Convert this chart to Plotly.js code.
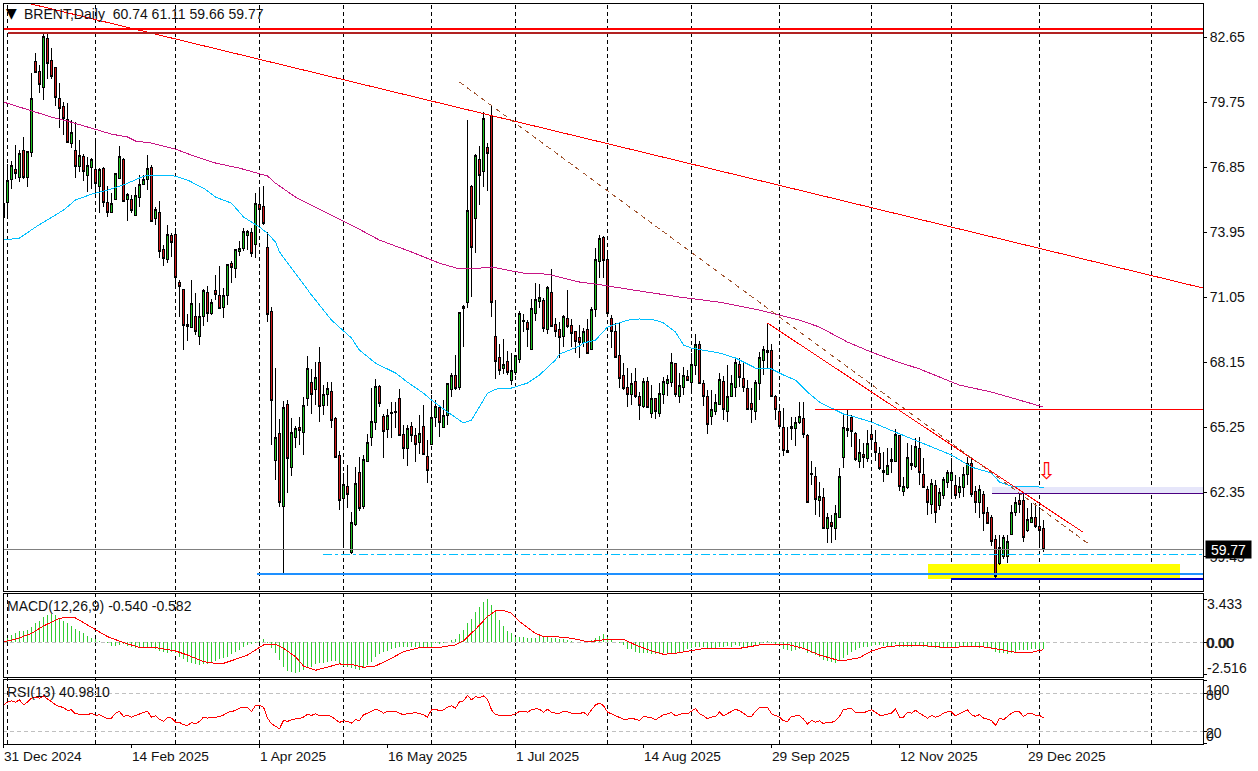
<!DOCTYPE html>
<html>
<head>
<meta charset="utf-8">
<script src="https://cdn.plot.ly/plotly-3.0.1.min.js"></script>
<style>
  html, body { margin: 0; padding: 0; background: #fff; }
  /* the terminal draws aliased lines */
  .scatterlayer path, .shapelayer path, .barlayer path, .boxlayer path { shape-rendering: crispEdges !important; }
</style>
</head>
<body>
<div id="chart" style="width:1258px;height:771px"></div>
<script>
// daily BRENT candles, left to right
const opens = [
  74.62,75.29,76.31,76.76,76.40,77.61,76.40,77.52,81.58,81.13,
  80.42,82.60,81.62,81.27,79.93,79.53,78.95,77.92,77.61,76.89,
  77.34,76.49,76.85,76.76,76.00,76.80,75.29,74.80,75.42,76.36,
  77.20,75.38,75.42,74.71,75.51,76.09,76.31,76.85,74.57,74.80,
  73.15,72.74,73.81,73.86,71.72,71.40,69.84,69.71,70.20,69.31,
  70.20,71.23,70.33,71.32,71.14,70.60,71.14,72.56,72.34,73.06,
  73.23,73.81,73.95,73.41,75.20,75.11,73.28,70.42,63.77,64.98,
  61.72,66.27,63.46,64.80,65.25,65.02,66.50,67.25,66.94,68.15,
  66.23,66.72,66.85,65.65,64.00,62.08,62.61,59.63,60.92,63.20,
  61.72,63.73,64.80,65.43,67.08,65.74,65.16,65.85,65.90,66.50,
  64.93,64.27,65.29,64.85,64.58,65.29,63.95,64.49,65.69,66.14,
  65.25,65.78,66.94,67.57,67.03,70.56,70.82,75.96,74.57,77.20,
  76.63,77.74,79.17,69.31,68.33,67.84,68.19,67.34,67.70,68.28,
  69.95,69.93,68.73,70.33,70.87,70.91,69.62,71.23,69.84,69.62,
  69.31,70.07,69.80,69.49,69.26,69.00,69.62,68.73,70.51,72.65,
  73.72,72.74,70.07,69.49,68.46,67.57,67.03,66.72,67.30,66.59,
  66.18,67.30,65.87,66.50,65.87,66.68,67.17,67.25,68.10,66.59,
  67.03,67.52,67.25,68.01,68.91,67.17,66.59,65.74,65.92,66.27,
  67.30,65.92,66.63,67.03,68.06,67.43,66.99,66.32,65.92,67.17,
  68.24,68.68,68.68,66.63,65.92,65.25,64.13,65.20,65.20,65.43,
  65.65,64.89,63.13,63.06,61.95,62.12,60.74,61.01,60.70,61.23,
  63.91,65.20,65.69,64.98,63.69,64.04,63.86,64.93,64.58,64.09,
  63.33,63.15,63.69,63.73,64.85,62.39,62.53,63.64,63.51,64.31,
  63.11,62.48,61.81,62.66,61.77,62.21,62.79,62.88,62.66,62.35,
  62.57,63.11,63.60,62.39,61.90,62.26,61.45,61.23,60.21,59.18,
  59.45,59.45,60.47,61.45,61.99,61.95,60.65,61.01,61.23,60.79,
  60.74
];
const highs = [
  75.29,76.98,77.12,77.83,77.61,78.19,77.56,81.04,81.94,81.40,
  82.87,82.78,82.16,81.31,80.60,79.75,79.70,78.95,78.86,78.05,
  77.43,77.29,77.25,78.05,76.80,76.85,76.00,75.69,76.58,77.79,
  77.25,75.69,75.60,75.96,76.49,76.49,77.38,76.94,75.06,75.33,
  73.37,74.26,73.90,74.13,71.81,71.40,70.29,71.81,71.23,70.78,
  71.40,71.54,70.96,72.03,72.43,71.45,72.52,72.65,73.15,73.55,
  74.13,74.04,74.13,75.69,75.91,76.00,73.95,70.60,67.88,65.60,
  66.41,66.45,65.65,65.29,65.69,66.59,68.42,67.84,68.15,68.82,
  67.12,67.25,67.25,65.69,64.18,63.20,63.55,61.45,63.46,63.91,
  64.00,64.93,66.99,67.39,67.12,65.83,66.05,66.36,66.36,66.94,
  65.34,65.34,65.47,65.20,65.78,66.23,64.67,66.68,66.45,66.23,
  66.45,67.21,67.66,68.46,70.38,70.69,78.95,76.05,77.43,77.79,
  79.30,77.92,79.61,70.91,68.95,69.17,68.64,68.55,68.42,70.42,
  70.29,70.02,70.96,71.67,71.63,71.00,71.54,72.30,70.11,69.93,
  70.24,71.36,70.07,69.53,69.80,69.66,70.07,70.60,73.23,73.81,
  73.77,72.97,70.24,69.89,69.89,68.10,67.88,67.66,67.88,66.81,
  67.43,67.48,67.12,66.54,67.21,67.48,67.57,68.55,68.10,67.66,
  67.92,67.79,68.55,69.40,69.08,67.34,66.90,66.90,66.72,67.66,
  67.52,68.01,67.57,68.37,68.33,68.10,67.34,66.99,67.34,68.59,
  68.86,69.89,68.95,66.68,66.09,66.09,65.25,65.69,65.69,66.36,
  66.36,64.93,63.73,63.46,62.79,62.53,61.41,61.32,61.77,63.42,
  65.78,66.05,65.78,65.02,64.71,64.53,65.11,65.16,65.11,64.36,
  64.13,64.31,64.31,65.16,64.89,63.02,64.53,64.44,64.76,64.80,
  63.86,62.61,62.93,62.88,62.53,63.02,63.33,63.86,63.11,63.02,
  63.46,63.91,63.86,62.61,62.66,62.39,61.68,61.32,60.43,60.43,
  60.43,60.43,61.77,62.12,62.26,62.26,61.63,61.86,61.86,61.68,
  61.11
];
const lows = [
  74.17,74.71,75.87,76.31,76.18,76.31,75.96,77.29,81.09,80.15,
  79.84,80.78,80.78,79.57,78.59,78.28,77.92,77.70,76.36,76.63,
  76.22,75.73,75.87,75.47,74.80,75.06,74.62,74.80,75.38,76.36,
  75.33,74.44,74.80,74.66,75.06,76.05,75.82,74.39,74.26,72.79,
  72.43,72.56,72.83,71.49,70.16,68.68,69.08,69.66,69.35,68.91,
  69.75,69.93,70.24,70.91,70.56,70.11,70.69,71.67,71.90,72.88,
  73.10,73.15,72.83,72.79,74.13,74.26,69.93,64.44,62.88,61.68,
  58.73,62.30,63.06,64.31,64.44,64.00,66.18,65.83,66.23,65.47,
  65.78,66.18,65.20,63.86,61.54,59.98,61.63,59.58,60.83,61.50,
  61.59,63.69,64.40,65.11,66.14,63.86,64.76,64.76,65.20,64.85,
  63.82,63.51,64.58,63.69,64.04,64.00,62.75,64.49,65.25,64.80,
  65.20,65.34,66.59,66.90,66.90,68.82,70.56,71.05,73.01,75.15,
  75.96,75.78,70.16,67.39,67.57,67.61,67.57,67.12,67.57,68.10,
  69.49,68.82,68.68,69.98,70.56,69.49,69.40,69.71,69.26,68.33,
  68.82,69.66,68.82,68.55,68.33,68.82,68.55,68.68,70.16,71.90,
  71.90,70.16,68.77,68.33,66.99,66.90,66.14,66.23,66.54,65.56,
  66.09,66.09,65.65,65.60,65.69,66.27,66.63,67.03,66.59,66.32,
  66.68,67.30,66.90,67.57,67.17,66.18,64.93,65.34,65.78,66.27,
  65.56,65.47,66.63,66.59,67.03,66.81,66.01,65.43,65.56,66.45,
  67.57,67.88,66.59,65.56,65.25,63.95,64.09,64.67,64.40,65.38,
  64.76,61.90,62.66,61.32,61.23,60.74,60.07,60.07,60.21,61.19,
  63.42,64.80,64.36,63.73,63.42,63.42,63.69,64.22,63.73,63.33,
  62.79,63.11,63.20,63.69,62.39,62.17,62.48,63.33,63.42,62.66,
  62.53,61.32,61.37,60.96,61.54,62.03,62.53,62.17,62.03,62.08,
  62.12,62.66,62.12,61.41,61.19,60.61,60.96,59.94,58.51,59.09,
  59.36,59.18,60.47,61.28,61.41,60.12,60.56,60.96,60.74,59.89,
  59.66
];
const closes = [
  75.24,76.27,76.94,76.54,77.47,76.40,77.56,79.93,81.09,80.55,
  82.69,81.49,80.91,79.97,79.48,79.03,77.96,78.37,76.89,77.38,
  76.63,76.94,77.20,76.13,76.76,75.29,74.80,75.24,76.54,77.34,
  75.33,75.64,74.89,75.60,76.09,76.31,76.80,74.44,74.97,73.06,
  72.79,73.86,73.50,71.90,71.54,69.80,69.75,70.74,69.49,70.20,
  71.32,70.33,70.82,71.18,70.56,71.14,72.48,72.39,73.15,73.23,
  73.99,73.99,73.01,75.24,74.97,74.31,70.29,66.45,64.80,61.86,
  66.14,63.86,65.02,65.20,65.11,66.23,67.88,66.68,67.48,66.18,
  66.68,66.99,65.56,63.91,61.95,62.70,62.26,61.01,62.75,61.63,
  63.82,64.58,65.51,67.08,66.32,65.07,65.78,65.89,65.94,64.89,
  64.31,65.20,64.89,64.49,64.98,64.04,63.33,65.69,66.18,65.43,
  65.78,67.17,67.57,66.99,70.38,70.62,74.89,73.28,77.38,76.49,
  79.03,77.47,70.82,68.19,67.75,68.06,67.70,67.79,68.42,70.33,
  70.00,69.62,70.56,70.96,71.05,69.66,71.49,69.75,69.49,69.26,
  70.20,69.75,69.44,69.08,69.00,69.53,68.55,70.51,72.74,73.64,
  72.70,70.33,69.49,68.37,67.43,66.99,66.72,67.21,66.59,66.23,
  67.30,66.14,66.50,65.92,66.76,67.30,67.39,68.15,66.68,67.12,
  67.57,67.34,68.06,68.95,67.21,66.63,65.38,66.05,66.36,67.39,
  66.01,66.59,67.17,68.15,67.48,67.03,66.05,66.01,67.25,68.33,
  68.73,68.59,66.63,66.01,65.29,64.22,64.22,65.29,65.47,65.74,
  64.93,61.90,63.17,62.03,62.17,60.74,61.19,60.79,61.37,63.02,
  65.25,65.11,65.07,63.82,64.13,63.91,64.53,64.71,64.13,63.42,
  63.24,63.55,63.82,64.93,62.61,62.61,63.91,63.55,64.40,63.20,
  62.57,61.86,62.75,61.45,62.35,62.93,63.24,63.20,62.21,62.61,
  63.15,63.60,62.26,61.90,62.44,61.37,60.96,60.16,58.60,59.89,
  60.34,60.12,61.45,61.90,61.81,60.34,61.14,61.23,60.79,60.61,
  59.77
];

// moving averages, read at the bends of each curve
const maFastIdx = [0,4,8,12,15,18,22,26,30,34,36,40,42,46,50,53,57,60,64,66,68,69,72,77,82,87,89,93,98,101,105,107,111,114,115,117,119,121,123,127,131,134,138,139,144,145,148,151,156,159,163,165,168,170,172,176,179,183,188,192,195,198,201,204,207,210,213,217,223,229,233,237,242,247,249,252,258,260];
const maFastVal = [73.59,73.68,74.17,74.62,74.93,75.38,75.64,75.82,76.05,76.36,76.49,76.49,76.49,76.27,75.91,75.51,75.24,74.62,74.17,73.90,73.50,73.06,72.34,71.14,70.02,69.22,68.68,68.10,67.66,67.25,66.76,66.45,65.92,65.56,65.43,65.56,66.14,66.76,66.94,66.99,67.21,67.57,68.24,68.50,68.86,69.00,69.13,69.71,70.02,70.07,70.02,69.89,69.49,68.91,68.77,68.64,68.55,68.33,67.88,67.84,67.57,67.34,66.81,66.36,66.09,65.83,65.69,65.47,65.02,64.58,64.31,64.00,63.46,63.20,62.79,62.61,62.61,62.53];
const maSlowIdx = [0,4,8,12,16,21,27,31,33,37,43,47,53,59,66,68,73,79,87,94,102,109,114,119,122,126,130,136,140,144,148,155,159,169,179,189,194,199,204,211,217,223,229,239,247,254,260];
const maSlowVal = [79.75,79.53,79.30,79.08,78.90,78.63,78.32,78.19,78.01,77.92,77.65,77.38,77.03,76.80,76.45,76.13,75.51,74.97,74.26,73.59,73.06,72.56,72.30,72.34,72.39,72.25,72.12,72.07,71.90,71.72,71.63,71.45,71.32,71.05,70.82,70.47,70.24,70.02,69.71,69.04,68.59,68.19,67.84,67.12,66.81,66.45,66.14];

// drawn objects on the price window, [start bar, end bar] and [start, end] price
const longTrendIdx = [5.9, 299.9],   longTrendVal = [84.17, 71.45];
const shortTrendIdx = [191, 269.85], shortTrendVal = [69.89, 60.56];
const dashTrendIdx = [114, 271],     dashTrendVal = [80.64, 60.07];
const levelTopRed = 83.01, levelTopBrown = 82.83, levelRed = 66.04, levelPurple = 62.29;
const levelLast = 59.77, levelCyan = 59.58, levelBlue = 58.69, levelNavy = 58.48;
const zoneLavender = [247, 300, 62.29, 62.57], zoneYellow = [231, 294, 58.47, 59.13];

// period separators, tick labels
const separatorBars = [1,23,43,64,85,107,128,151,172,194,217,237,259,287];
const dateTickBars = [0,32,64,96,128,160,192,224,256];
const dateTickText = ['31 Dec 2024','14 Feb 2025','1 Apr 2025','16 May 2025','1 Jul 2025','14 Aug 2025','29 Sep 2025','12 Nov 2025','29 Dec 2025'];
const priceTicks = [82.65,79.75,76.85,73.95,71.05,68.15,65.25,62.35,59.45];

// MACD histogram, one per bar
const macdHist = [
  .19,.37,.58,.71,.90,.93,.98,1.24,1.56,1.72,
  2.04,2.17,2.25,2.14,1.93,1.72,1.51,1.30,1.03,.90,
  .71,.53,.37,.24,.13,.05,-.03,-.29,-.29,-.21,
  -.16,-.29,-.40,-.48,-.42,-.34,-.34,-.40,-.50,-.66,
  -.77,-.82,-.79,-.87,-1.19,-1.35,-1.53,-1.61,-1.72,-1.77,
  -1.72,-1.69,-1.61,-1.48,-1.35,-1.27,-1.14,-.95,-.79,-.61,
  -.40,-.21,-.13,-.03,.11,.26,-.08,-.48,-.87,-1.40,
  -1.93,-2.28,-2.33,-2.41,-2.33,-2.20,-1.98,-1.93,-1.72,-1.67,
  -1.61,-1.53,-1.46,-1.46,-1.67,-1.88,-1.98,-2.06,-2.14,-2.20,
  -2.06,-1.80,-1.53,-1.14,-.93,-.77,-.66,-.56,-.48,-.34,
  -.40,-.40,-.34,-.40,-.40,-.48,-.48,-.34,-.08,-.16,
  -.03,0,.19,.24,.66,.98,1.51,1.85,2.43,2.83,
  3.23,3.44,2.96,2.43,1.77,1.32,.93,.71,.45,.42,
  .42,.37,.32,.37,.53,.53,.45,.37,.32,.24,
  .24,.19,.13,.05,.05,.05,.05,.19,.32,.53,
  .66,.45,.24,.05,-.03,-.21,-.50,-.53,-.74,-.87,
  -.87,-.87,-.93,-.95,-.87,-.82,-.87,-.82,-.82,-.77,
  -.69,-.56,-.48,-.34,-.34,-.40,-.45,-.48,-.42,-.34,
  -.34,-.29,-.40,-.21,-.29,-.34,-.34,-.40,-.21,-.21,
  -.03,.11,-.03,-.13,-.21,-.56,-.61,-.66,-.61,-.56,
  -.48,-.87,-.87,-1.01,-1.19,-1.40,-1.46,-1.53,-1.61,-1.46,
  -1.27,-1.01,-.74,-.61,-.48,-.40,-.40,-.29,-.21,-.21,
  -.29,-.34,-.29,-.13,-.34,-.40,-.34,-.34,-.21,-.29,
  -.34,-.40,-.40,-.48,-.48,-.40,-.34,-.34,-.40,-.34,
  -.34,-.29,-.29,-.40,-.48,-.40,-.48,-.56,-.74,-.82,
  -.87,-.93,-.87,-.74,-.61,-.61,-.61,-.56,-.50,-.50,
  -.54
];
const macdSignalIdx = [0,3,7,10,14,16,18,20,23,26,30,34,38,43,46,50,53,55,58,61,65,68,70,73,75,78,82,84,87,90,93,97,100,103,104,109,113,115,118,121,123,125,127,129,133,135,138,142,146,148,151,155,158,162,165,168,172,175,184,190,196,200,204,209,211,214,217,220,223,228,229,235,244,246,250,253,257,259,260];
const macdSignalVal = [.05,.24,.71,1.30,1.90,1.98,1.93,1.56,.98,.45,-.03,-.40,-.42,-.69,-1.01,-1.53,-1.67,-1.67,-1.35,-1.01,-.21,-.16,-.48,-1.14,-1.88,-2.22,-1.88,-1.72,-1.75,-1.98,-1.88,-1.27,-.74,-.48,-.42,-.40,-.21,.11,1.03,2.04,2.49,2.54,2.30,1.64,.71,.45,.45,.32,.05,.11,.24,.24,-.21,-.69,-.95,-.87,-.69,-.50,-.48,-.16,-.16,-.48,-1.01,-1.46,-1.40,-1.22,-.69,-.40,-.29,-.29,-.24,-.40,-.34,-.40,-.61,-.79,-.79,-.63,-.582];

// RSI(13), one per bar
const rsi = [
  61.6,65.8,67.9,65.8,69.5,61.6,65.8,72.1,73.7,72.1,
  75.8,71.1,65.3,61.6,58.9,57.4,52.6,53.7,47.4,46.8,
  46.8,45.8,48.4,44.7,45.8,42.1,39.5,40.5,48.4,51.1,
  43.2,44.7,42.1,44.7,47.4,49.5,51.1,42.1,44.2,38.9,
  35.3,41.6,40.5,34.2,33.7,30,28.9,33.7,31.6,35.3,
  42.1,40.5,42.1,41.6,43.2,45.3,49.5,51.1,52.6,56.3,
  57.9,57.9,51.1,60.5,60.5,57.9,40.5,31.6,27.4,23.7,
  36.8,35.3,37.9,39.5,39.5,42.1,46.8,44.7,47.4,44.7,
  45.3,45.3,43.2,38.9,33.7,36.3,35.3,32.6,37.9,36.8,
  45.8,48.4,51.1,54.7,52.6,48.4,51.1,51.1,51.1,48.4,
  45.8,47.9,47.9,49.5,47.4,45.8,42.1,53.7,54.7,52.1,
  53.7,57.9,60,56.3,66.8,67.9,76.3,69.5,74.7,73.2,
  75.8,70.5,53.7,45.8,45.3,45.3,45.3,45.3,47.4,51.1,
  51.1,50,53.7,55.3,54.7,49.5,54.7,49.5,48.4,48.4,
  51.1,50.5,48.4,47.4,47.4,50,44.7,53.7,61.6,64.2,
  60.5,50,46.8,44.2,41.6,38.9,38.9,40.5,38.9,36.8,
  43.2,41.6,41.1,37.9,42.1,45.8,47.4,49.5,44.2,46.8,
  48.4,47.4,51.1,55.8,47.4,44.2,39.5,42.1,43.2,50,
  44.2,47.4,51.1,54.7,52.1,48.4,43.2,43.2,51.1,57.4,
  57.9,57.9,47.4,44.2,42.1,36.3,35.3,43.2,44.2,44.7,
  38.9,31.1,36.8,34.2,36.3,31.6,34.2,33.7,36.3,43.2,
  54.7,55.3,55.3,50,50,48.9,51.6,53.7,50,45.3,
  45.3,46.8,48.4,55.3,42.1,42.1,50,48.4,53.2,48.4,
  44.2,40.5,44.7,42.1,44.2,48.4,50.5,50.5,44.2,47.4,
  51.1,53.7,45.8,43.2,46.3,40.5,38.9,36.8,28.9,40.5,
  37.9,43.2,48.4,51.6,50.5,43.2,47.4,48.4,45.3,44.7,
  40.98
];

// right hand labels of the two indicator windows, with the height each one sits at
const macdLabelText = ['3.433', '0.00', '0.00', '-2.516'];
const macdLabelAt = [3.04, -0.05, -0.05, -2.04];
const rsiLabelText = ['100', '80', '20', '0'];
const rsiLabelAt = [85.2, 77.3, 17.3, 12.6];

const barIndex = opens.map((_, i) => i);
const BLACK = '#000';
const FONT = 'Liberation Sans, Arial, sans-serif';
const TEXT = '#111';

// window edges in picture pixels
const plotTop = 3, plotBottom = 744;
const plotH = plotBottom - plotTop;
const domainOf = (top, bottom) => [(plotBottom - bottom) / plotH, (plotBottom - top) / plotH];
const paperY = px => (plotBottom - px) / plotH;

function line(x, y, color, width, yaxis, dash) {
  return { type: 'scatter', mode: 'lines', x, y, yaxis: yaxis || 'y', xaxis: 'x', hoverinfo: 'skip',
    line: { color, width, dash: dash || 'solid', shape: 'linear' } };
}
const level = (from, value, color, width, dash) => line([from, 300], [value, value], color, width, 'y', dash);

const traces = [
  { type: 'candlestick', x: barIndex, open: opens, high: highs, low: lows, close: closes,
    xaxis: 'x', yaxis: 'y', hoverinfo: 'skip',
    increasing: { line: { color: BLACK, width: 1 }, fillcolor: '#1fc21f' },
    decreasing: { line: { color: BLACK, width: 1 }, fillcolor: '#d01818' } },
  line(maFastIdx, maFastVal, '#00bfff', 1),
  line(maSlowIdx, maSlowVal, '#c71585', 1),
  line(longTrendIdx, longTrendVal, '#ff0000', 1),
  line(shortTrendIdx, shortTrendVal, '#ff0000', 1),
  line(dashTrendIdx, dashTrendVal, '#a0522d', 1, 'y', '5px,4px'),
  level(-1, levelTopRed, '#ff0000', 2),
  level(1, levelTopBrown, '#b22222', 2),
  level(202.9, levelRed, '#ff0000', 1),
  level(247, levelPurple, '#4b0082', 1),
  level(-1, levelLast, '#808080', 1),
  level(79.9, levelCyan, '#00bfff', 1, '9px,3px,3px,3px'),
  level(63.4, levelBlue, '#1e90ff', 2),
  level(236.9, levelNavy, '#0000cd', 2),
  { type: 'bar', x: barIndex, y: macdHist, width: 0.25, xaxis: 'x', yaxis: 'y2', hoverinfo: 'skip',
    marker: { color: '#32cd32', line: { width: 0 } } },
  line(macdSignalIdx, macdSignalVal, '#ff0000', 1, 'y2'),
  line(barIndex, rsi, '#ff0000', 1, 'y3')
];

const shapes = [];
// zones
[[zoneLavender, '#e6e6fa'], [zoneYellow, '#ffff00']].forEach(([z, color]) => {
  shapes.push({ type: 'rect', layer: 'below', xref: 'x', yref: 'y', x0: z[0], x1: z[1], y0: z[2], y1: z[3],
    fillcolor: color, line: { width: 0 } });
});
// separators
separatorBars.forEach(b => {
  shapes.push({ type: 'line', layer: 'below', xref: 'x', yref: 'paper', x0: b, x1: b, y0: 0, y1: 1,
    line: { color: BLACK, width: 1, dash: '4px,3px' } });
});
// indicator zero and level lines
[['y2', 0], ['y3', 80], ['y3', 20]].forEach(([yref, v]) => {
  shapes.push({ type: 'line', layer: 'below', xref: 'x domain', yref, x0: 0, x1: 1, y0: v, y1: v,
    line: { color: '#c0c0c0', width: 1, dash: '4px,3px' } });
});
// window frames
['y', 'y2', 'y3'].forEach(yref => {
  shapes.push({ type: 'rect', layer: 'above', xref: 'x domain', yref: yref + ' domain', x0: 0, x1: 1, y0: 0, y1: 1,
    line: { color: BLACK, width: 1 }, fillcolor: 'rgba(0,0,0,0)' });
});

const paperText = (text, xPx, yPx, extra) => Object.assign({
  text, xref: 'paper', yref: 'paper', x: (xPx - 3) / 1200, y: paperY(yPx), xanchor: 'left', yanchor: 'middle',
  showarrow: false, font: { family: FONT, size: 14, color: TEXT }, borderpad: 0
}, extra || {});

const annotations = [
  paperText('▼', 5, 13, { font: { family: 'DejaVu Sans', size: 14, color: BLACK } }),
  paperText('BRENT,Daily\u00a0\u00a060.74 61.11 59.66 59.77', 23, 14),
  paperText('MACD(12,26,9) -0.540 -0.582', 6, 606),
  paperText('RSI(13) 40.9810', 6, 692),
  // hollow arrow above the last candles
  { text: '⇩', xref: 'x', yref: 'y', x: 260.7, y: 63.3, showarrow: false, borderpad: 0,
    font: { family: 'DejaVu Sans', size: 23, color: '#ff0000' } },
  // last price tag
  { text: '59.77', xref: 'paper', yref: 'y', x: 1, y: levelLast, xanchor: 'left', xshift: 2, showarrow: false,
    width: 45, height: 17, bgcolor: BLACK, borderpad: 0, align: 'center',
    font: { family: FONT, size: 14, color: '#fff' } }
];
macdLabelText.forEach((t, i) => annotations.push({ text: t, xref: 'paper', yref: 'y2', x: 1, y: macdLabelAt[i],
  xanchor: 'left', xshift: i === 1 ? 2 : i === 2 ? 2.6 : 3, showarrow: false, borderpad: 0, font: { family: FONT, size: 14, color: TEXT } }));
rsiLabelText.forEach((t, i) => annotations.push({ text: t, xref: 'paper', yref: 'y3', x: 1, y: rsiLabelAt[i],
  xanchor: 'left', xshift: 2, showarrow: false, borderpad: 0, font: { family: FONT, size: 14, color: TEXT } }));

const layout = {
  width: 1258, height: 771,
  margin: { l: 3, r: 55, t: plotTop, b: 771 - plotBottom, pad: 0 },
  paper_bgcolor: '#fff', plot_bgcolor: '#fff',
  showlegend: false, hovermode: false, dragmode: false,
  barmode: 'overlay',
  font: { family: FONT, size: 14, color: TEXT },
  xaxis: {
    range: [-0.125, 299.875], showgrid: false, zeroline: false, fixedrange: true, rangeslider: { visible: false },
    tickmode: 'array', tickvals: dateTickBars, ticktext: dateTickText, tickfont: { size: 13.7 },
    ticks: 'outside', ticklen: 3, tickcolor: BLACK, ticklabelposition: 'outside right',
    anchor: 'y3', showline: false
  },
  yaxis: {
    domain: domainOf(3, 591.5), range: [57.91, 84.17], side: 'right', anchor: 'x',
    showgrid: false, zeroline: false, fixedrange: true,
    tickmode: 'array', tickvals: priceTicks, tickformat: '.2f', ticks: 'outside', ticklen: 3, tickcolor: BLACK
  },
  yaxis2: {
    domain: domainOf(593.5, 677), range: [-2.754, 3.873], side: 'right', anchor: 'x',
    showgrid: false, zeroline: false, fixedrange: true, showticklabels: false, tickmode: 'array',
    tickvals: [3.433, 0, -2.516], ticks: 'outside', ticklen: 3, tickcolor: BLACK
  },
  yaxis3: {
    domain: domainOf(679.5, 744), range: [-0.53, 101.8], side: 'right', anchor: 'x',
    showgrid: false, zeroline: false, fixedrange: true, showticklabels: false, tickmode: 'array',
    tickvals: [100, 80, 20, 0], ticks: 'outside', ticklen: 3, tickcolor: BLACK
  },
  shapes, annotations
};

Plotly.newPlot('chart', traces, layout, { displayModeBar: false, staticPlot: true });
</script>
</body>
</html>
